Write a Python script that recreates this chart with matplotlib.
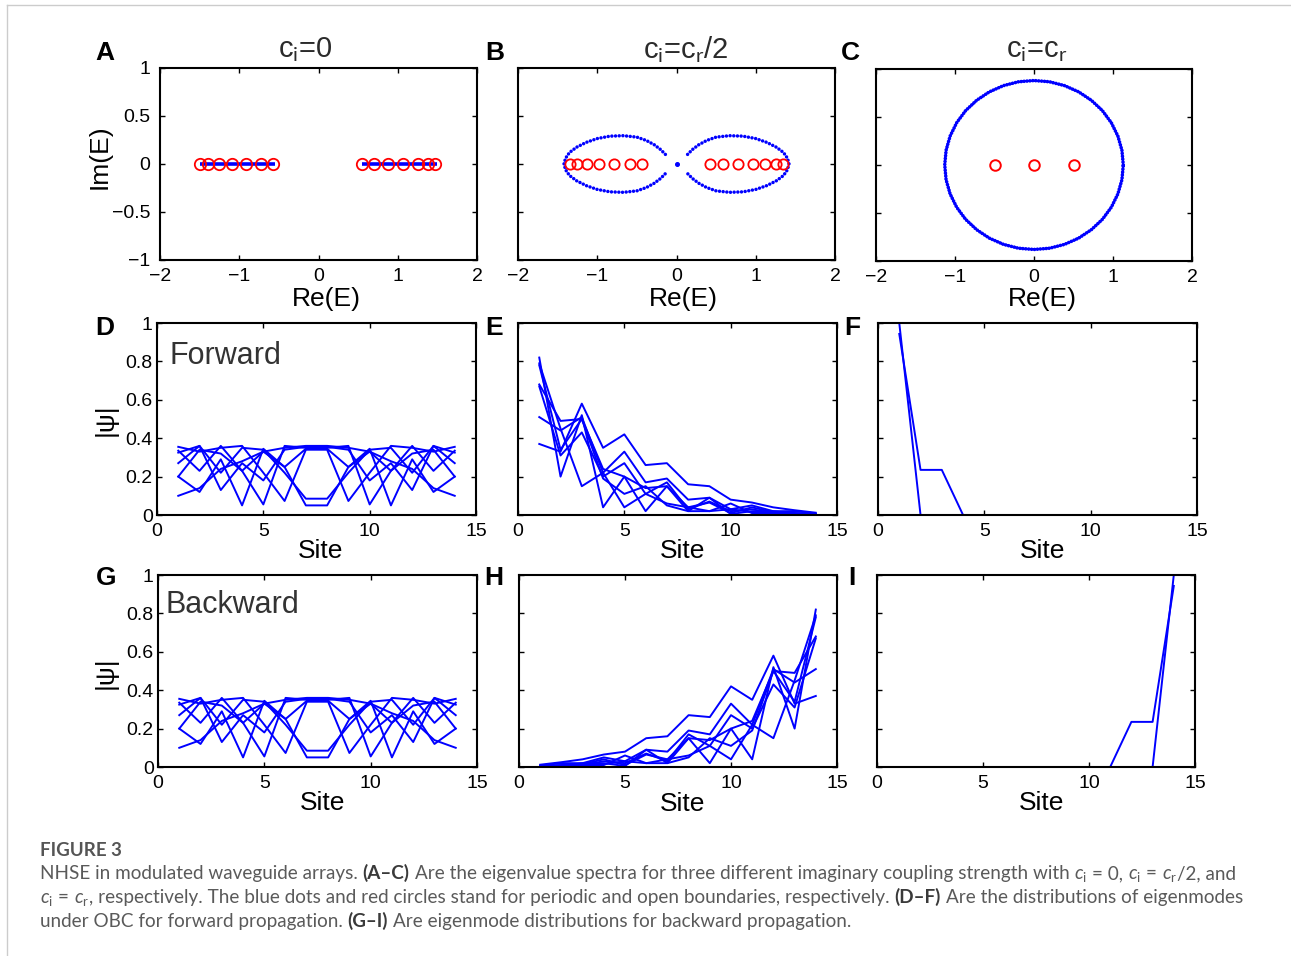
"""Redraw of Figure 3: NHSE spectra and eigenmode profiles in modulated waveguide arrays."""

import matplotlib

matplotlib.use("Agg")

import matplotlib.pyplot as plt
from matplotlib.lines import Line2D
from matplotlib.ticker import FixedLocator, FuncFormatter

FIG_W, FIG_H = 1291, 956
BLUE = "#0000ff"
RED = "#ff0000"

# ---------------- panels A-C: eigenvalue spectra ----------------
OBC_A = [-1.49, -1.40, -1.26, -1.09, -0.91, -0.72, -0.57,
         0.55, 0.70, 0.88, 1.07, 1.25, 1.38, 1.47]
PBC_A_BANDS = [(-1.50, -0.55), (0.55, 1.50)]

OBC_B = [-1.35, -1.26, -1.13, -0.98, -0.79, -0.59, -0.43,
         0.42, 0.59, 0.77, 0.97, 1.12, 1.25, 1.34]
# upper half of the left PBC lobe, tip -> pinch; other parts are mirror images
LOBE_B_X = [-1.42, -1.40, -1.35, -1.26, -1.14, -1.00, -0.84, -0.67,
            -0.50, -0.38, -0.28, -0.20, -0.14]
LOBE_B_Y = [0.00, 0.06, 0.12, 0.175, 0.225, 0.265, 0.29, 0.295,
            0.28, 0.245, 0.20, 0.15, 0.10]
CENTER_B = (0.0, 0.0)

OBC_C = [-0.5, 0.0, 0.5]
# first quadrant of the PBC loop, 0 -> 90 degrees
RING_C_X = [1.13, 1.113, 1.062, 0.979, 0.866, 0.726, 0.565, 0.386, 0.196, 0.0]
RING_C_Y = [0.0, 0.153, 0.301, 0.44, 0.566, 0.674, 0.762, 0.827, 0.867, 0.88]

# ---------------- panels D-I: |psi| over sites ----------------
SITES = list(range(1, 15))

EXTENDED_MODES = [
    [0.10, 0.14, 0.24, 0.28, 0.33, 0.35, 0.36, 0.36, 0.35, 0.33, 0.28, 0.24, 0.14, 0.10],
    [0.20, 0.12, 0.29, 0.05, 0.345, 0.25, 0.05, 0.05, 0.25, 0.345, 0.05, 0.29, 0.12, 0.20],
    [0.27, 0.36, 0.13, 0.27, 0.18, 0.34, 0.355, 0.355, 0.34, 0.18, 0.27, 0.13, 0.36, 0.27],
    [0.335, 0.23, 0.36, 0.23, 0.055, 0.36, 0.35, 0.35, 0.36, 0.055, 0.23, 0.36, 0.23, 0.335],
    [0.355, 0.33, 0.35, 0.36, 0.22, 0.073, 0.34, 0.34, 0.073, 0.22, 0.36, 0.35, 0.33, 0.355],
    [0.325, 0.36, 0.22, 0.35, 0.34, 0.22, 0.085, 0.085, 0.22, 0.34, 0.35, 0.22, 0.36, 0.325],
    [0.20, 0.34, 0.32, 0.23, 0.33, 0.25, 0.345, 0.345, 0.25, 0.33, 0.23, 0.32, 0.34, 0.20],
]

SKIN_MODES = [
    [0.37, 0.33, 0.58, 0.35, 0.42, 0.26, 0.27, 0.16, 0.15, 0.08, 0.065, 0.04, 0.025, 0.012],
    [0.51, 0.44, 0.51, 0.22, 0.33, 0.17, 0.19, 0.08, 0.09, 0.03, 0.05, 0.02, 0.02, 0.008],
    [0.68, 0.49, 0.50, 0.24, 0.20, 0.14, 0.15, 0.04, 0.065, 0.01, 0.04, 0.015, 0.01, 0.005],
    [0.67, 0.31, 0.43, 0.20, 0.27, 0.11, 0.17, 0.03, 0.07, 0.02, 0.03, 0.01, 0.01, 0.004],
    [0.78, 0.34, 0.50, 0.19, 0.11, 0.15, 0.05, 0.02, 0.09, 0.005, 0.02, 0.02, 0.005, 0.002],
    [0.82, 0.20, 0.52, 0.04, 0.20, 0.02, 0.15, 0.02, 0.02, 0.06, 0.01, 0.01, 0.003, 0.001],
    [0.79, 0.45, 0.15, 0.22, 0.04, 0.11, 0.06, 0.04, 0.02, 0.03, 0.015, 0.008, 0.004, 0.002],
]

EDGE_MODES = [
    [1.0, 0, 0, 0, 0, 0, 0, 0, 0, 0, 0, 0, 0, 0],
    [0.943, 0.235, 0.235, 0, 0, 0, 0, 0, 0, 0, 0, 0, 0, 0],
]

SPEC_TICKS_X = [-2, -1, 0, 1, 2]
SPEC_TICKS_Y = [-1, -0.5, 0, 0.5, 1]
SITE_TICKS_X = [0, 5, 10, 15]
SITE_TICKS_Y = [0, 0.2, 0.4, 0.6, 0.8, 1]

CAPTION_LINES = [
    [("NHSE in modulated waveguide arrays. ", "n"), ("(A\u2013C)", "b"),
     (" Are the eigenvalue spectra for three different imaginary coupling strength with ", "n"),
     (r"$c_\mathrm{i}$", "m"), (" = 0, ", "n"), (r"$c_\mathrm{i}$", "m"), (" = ", "n"),
     (r"$c_\mathrm{r}$", "m"), ("/2, and", "n")],
    [(r"$c_\mathrm{i}$", "m"), (" = ", "n"), (r"$c_\mathrm{r}$", "m"),
     (", respectively. The blue dots and red circles stand for periodic and open boundaries, respectively. ", "n"),
     ("(D\u2013F)", "b"), (" Are the distributions of eigenmodes", "n")],
    [("under OBC for forward propagation. ", "n"), ("(G\u2013I)", "b"),
     (" Are eigenmode distributions for backward propagation.", "n")],
]


def px_box(left, top, right, bottom):
    return [left / FIG_W, 1 - bottom / FIG_H, (right - left) / FIG_W, (bottom - top) / FIG_H]


def px_text(fig, x, y, s, **kw):
    return fig.text(x / FIG_W, 1 - y / FIG_H, s, **kw)


def tick_fmt(v, _pos):
    return f"{v:g}".replace("-", "\u2212")


def style_axes(ax, xlim, ylim, xticks, yticks, show_y, ypad):
    ax.set_xlim(*xlim)
    ax.set_ylim(*ylim)
    ax.xaxis.set_major_locator(FixedLocator(xticks))
    ax.yaxis.set_major_locator(FixedLocator(yticks))
    ax.xaxis.set_major_formatter(FuncFormatter(tick_fmt))
    ax.yaxis.set_major_formatter(FuncFormatter(tick_fmt))
    ax.tick_params(direction="in", top=True, right=True, length=3.6, width=1.0,
                   labelsize=14, colors="black")
    ax.tick_params(axis="x", pad=5.5)
    ax.tick_params(axis="y", pad=ypad, labelleft=show_y)
    for spine in ax.spines.values():
        spine.set_linewidth(1.5)


def mirror_x(vals):
    return [-v for v in vals]


def mirror_y(vals):
    return [-v for v in vals]


def draw_runs(fig, renderer, x_px, y_px, runs, size):
    probe_a = fig.text(0, 0, "a a", fontsize=size, family="Lato")
    probe_b = fig.text(0, 0, "aa", fontsize=size, family="Lato")
    space = (probe_a.get_window_extent(renderer).width
             - probe_b.get_window_extent(renderer).width)
    probe_a.remove()
    probe_b.remove()
    x = x_px
    for text, kind in runs:
        lead = len(text) - len(text.lstrip(" "))
        trail = len(text) - len(text.rstrip(" "))
        core = text.strip(" ")
        x += lead * space
        weight = "bold" if kind == "b" else "normal"
        color = "#3a3a3a" if kind == "b" else "#5a5a5a"
        t = px_text(fig, x, y_px, core, fontsize=size, family="Lato", weight=weight,
                    color=color, ha="left", va="baseline")
        x += t.get_window_extent(renderer).width
        x += trail * space


def main():
    plt.rcParams.update({
        "font.family": ["Liberation Sans", "DejaVu Sans"],
        "mathtext.fontset": "custom",
        "mathtext.rm": "Lato",
        "mathtext.it": "Lato:italic",
    })

    fig = plt.figure(figsize=(FIG_W / 100, FIG_H / 100), dpi=100)

    # ---- A ----
    ax = fig.add_axes(px_box(160, 68, 477, 260))
    for x0, x1 in PBC_A_BANDS:
        ax.plot([x0, x1], [0, 0], color=BLUE, lw=2.6, solid_capstyle="butt")
    ax.plot(OBC_A, [0] * len(OBC_A), "o", mfc="none", mec=RED, ms=8.2, mew=1.3)
    style_axes(ax, (-2, 2), (-1, 1), SPEC_TICKS_X, SPEC_TICKS_Y, True, 7)

    # ---- B ----
    ax = fig.add_axes(px_box(518, 68, 835, 260))
    left_x = LOBE_B_X[::-1] + LOBE_B_X[1:]
    left_y = LOBE_B_Y[::-1] + mirror_y(LOBE_B_Y[1:])
    for xs in (left_x, mirror_x(left_x)):
        ax.plot(xs, left_y, color=BLUE, lw=2.5, ls=(0, (0.01, 1.05)),
                dash_capstyle="round")
    ax.plot([CENTER_B[0]], [CENTER_B[1]], "o", color=BLUE, ms=2.6)
    ax.plot(OBC_B, [0] * len(OBC_B), "o", mfc="none", mec=RED, ms=7.4, mew=1.3)
    style_axes(ax, (-2, 2), (-1, 1), SPEC_TICKS_X, SPEC_TICKS_Y, False, 7)

    # ---- C ----
    ax = fig.add_axes(px_box(876, 69, 1192, 261))
    q2_x = mirror_x(RING_C_X[::-1])[1:]
    q2_y = RING_C_Y[::-1][1:]
    top_x = RING_C_X + q2_x
    top_y = RING_C_Y + q2_y
    ring_x = top_x + top_x[::-1][1:]
    ring_y = top_y + mirror_y(top_y[::-1][1:])
    ax.plot(ring_x, ring_y, color=BLUE, lw=2.6, ls=(0, (0.01, 0.8)),
            dash_capstyle="round")
    ax.plot(OBC_C, [0] * len(OBC_C), "o", mfc="none", mec=RED, ms=7.6, mew=1.4)
    style_axes(ax, (-2, 2), (-1, 1), SPEC_TICKS_X, SPEC_TICKS_Y, False, 7)

    # ---- D-I ----
    site_panels = [
        ((157, 323, 476, 515), EXTENDED_MODES, False, True),
        ((518, 323, 837, 515), SKIN_MODES, False, False),
        ((878, 323, 1197, 515), EDGE_MODES, False, False),
        ((158, 575, 477, 767), EXTENDED_MODES, True, True),
        ((519, 575, 837, 767), SKIN_MODES, True, False),
        ((877, 575, 1195, 767), EDGE_MODES, True, False),
    ]
    for box, modes, backward, show_y in site_panels:
        ax = fig.add_axes(px_box(*box))
        for mode in modes:
            # backward propagation mirrors the profile across the array
            ys = mode[::-1] if backward else mode
            ax.plot(SITES, ys, color=BLUE, lw=1.4)
        style_axes(ax, (0, 15), (0, 1), SITE_TICKS_X, SITE_TICKS_Y, show_y, 3)

    # ---- labels ----
    for letter, x, y in [("A", 105, 53), ("B", 495, 53), ("C", 850, 53),
                         ("D", 105, 328), ("E", 494, 328), ("F", 852, 328),
                         ("G", 106, 578), ("H", 494, 578), ("I", 852, 578)]:
        px_text(fig, x, y, letter, fontsize=19, weight="bold", ha="center", va="center")

    for title, x in [(r"c$_\mathrm{i}$=0", 305), (r"c$_\mathrm{i}$=c$_\mathrm{r}$/2", 686),
                     (r"c$_\mathrm{i}$=c$_\mathrm{r}$", 1037)]:
        px_text(fig, x, 50, title, fontsize=21, color="#2b2b2b", ha="center", va="center")

    for x in (326, 683, 1042):
        px_text(fig, x, 299, "Re(E)", fontsize=19, ha="center", va="center")
    for x, y in [(321, 551), (683, 551), (1043, 551), (323, 803), (683, 804), (1042, 803)]:
        px_text(fig, x, y, "Site", fontsize=19, ha="center", va="center")
    px_text(fig, 100, 157, "Im(E)", fontsize=19, rotation=90, ha="center", va="center")
    for y in (420, 673):
        px_text(fig, 106, y, "|\u03c8|", fontsize=19, rotation=90, ha="center", va="center")

    px_text(fig, 169, 356, "Forward", fontsize=22, color="#333333", ha="left", va="center")
    px_text(fig, 166, 605, "Backward", fontsize=22, color="#333333", ha="left", va="center")

    # ---- caption ----
    renderer = fig.canvas.get_renderer()
    px_text(fig, 40, 856, "FIGURE 3", fontsize=13.5, family="Lato", weight="bold",
            color="#555555", ha="left", va="baseline")
    for i, runs in enumerate(CAPTION_LINES):
        draw_runs(fig, renderer, 40, 879 + 24 * i, runs, 13.6)

    # card border
    fig.add_artist(Line2D([7 / FIG_W, 7 / FIG_W], [0, 1 - 5 / FIG_H], color="#cccccc", lw=1.0))
    fig.add_artist(Line2D([7 / FIG_W, 1], [1 - 5 / FIG_H, 1 - 5 / FIG_H], color="#cccccc", lw=1.0))

    fig.savefig("out.png", dpi=100)
    plt.close(fig)


if __name__ == "__main__":
    main()
